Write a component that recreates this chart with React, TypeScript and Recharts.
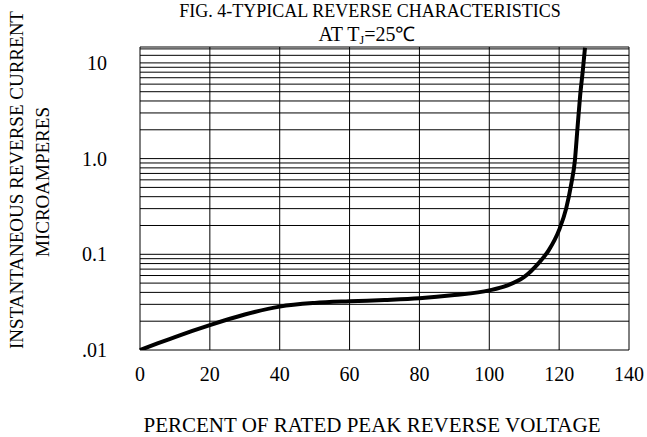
import { LineChart, Line, XAxis, YAxis, CartesianGrid } from 'recharts'

// percent of rated peak reverse voltage
const percentVoltage = [0, 5, 10, 15, 20, 30, 40, 50, 60, 70, 80, 90, 100, 105, 110, 114, 117, 120, 122, 123.5, 124.5, 125.3, 126, 126.8, 127.4]
// reverse current, microamperes
const reverseCurrent = [0.01, 0.0117, 0.0136, 0.0158, 0.0182, 0.0235, 0.0284, 0.031, 0.0323, 0.0333, 0.0347, 0.0375, 0.042, 0.047, 0.058, 0.08, 0.11, 0.18, 0.3, 0.55, 0.95, 2.2, 4.5, 8.5, 14.4]

const xTicks = [0, 20, 40, 60, 80, 100, 120, 140]
const yTicks = [
  0.01, 0.02, 0.03, 0.04, 0.05, 0.06, 0.07, 0.08, 0.09,
  0.1, 0.2, 0.3, 0.4, 0.5, 0.6, 0.7, 0.8, 0.9,
  1, 2, 3, 4, 5, 6, 7, 8, 9,
  10, 12, 14,
]
const yLabels: Record<string, string> = { '0.01': '.01', '0.1': '0.1', '1': '1.0', '10': '10' }

const data = percentVoltage.map((v, i) => ({ v, i: reverseCurrent[i] }))

const FONT = '"Liberation Serif", "Times New Roman", serif'

function YTick(props: any) {
  const { x, y, payload } = props
  const label = yLabels[String(payload.value)]
  if (!label) return <g />
  return (
    <text x={x - 33} y={y} dy="0.35em" textAnchor="end" fontFamily={FONT} fontSize={20} fill="#000">
      {label}
    </text>
  )
}

export default function App() {
  return (
    <div style={{ position: 'absolute', left: 0, top: 0, width: 647, height: 437, background: '#fff' }}>
      <LineChart width={647} height={437} data={data} margin={{ top: 47, right: 18, bottom: 57, left: 80 }}>
        <CartesianGrid stroke="#000" strokeWidth={1} />
        <XAxis
          dataKey="v"
          type="number"
          domain={[0, 140]}
          ticks={xTicks}
          axisLine={false}
          tickLine={false}
          tickSize={0}
          tickMargin={17}
          height={30}
          interval={0}
          tick={{ fontFamily: FONT, fontSize: 20, fill: '#000' }}
        />
        <YAxis
          type="number"
          scale="log"
          domain={[0.01, 14.66]}
          allowDataOverflow
          ticks={yTicks}
          interval={0}
          axisLine={false}
          tickLine={false}
          tickSize={0}
          tickMargin={0}
          width={60}
          tick={<YTick />}
        />
        <Line
          dataKey="i"
          type="monotone"
          stroke="#000"
          strokeWidth={4}
          dot={false}
          isAnimationActive={false}
        />
      </LineChart>
      <svg width={647} height={437} style={{ position: 'absolute', left: 0, top: 0, pointerEvents: 'none' }}>
        <g fontFamily={FONT} fill="#000">
          <text x={370} y={17} textAnchor="middle" fontSize={18}>FIG. 4-TYPICAL REVERSE CHARACTERISTICS</text>
          <text x={367} y={41} textAnchor="middle" fontSize={20}>
            AT T<tspan fontSize={12} dy={3}>J</tspan><tspan dy={-3}>=25℃</tspan>
          </text>
          <text x={372} y={432} textAnchor="middle" fontSize={21}>PERCENT OF RATED PEAK REVERSE VOLTAGE</text>
          <text transform="translate(16,180) rotate(-90)" textAnchor="middle" dy="0.35em" fontSize={19}>INSTANTANEOUS REVERSE CURRENT</text>
          <text transform="translate(42,182) rotate(-90)" textAnchor="middle" dy="0.35em" fontSize={19}>MICROAMPERES</text>
        </g>
      </svg>
    </div>
  )
}
